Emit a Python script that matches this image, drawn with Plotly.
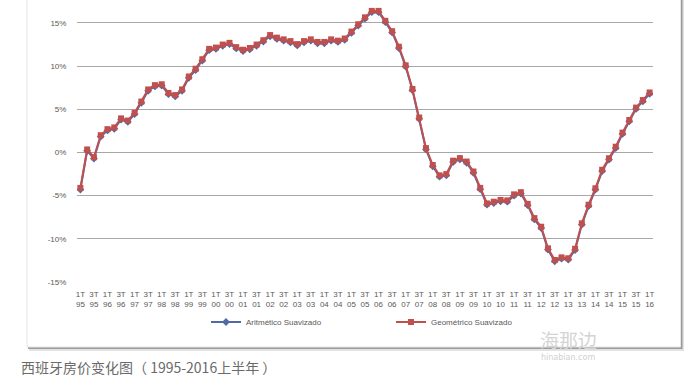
import plotly.graph_objects as go

# Quarter labels 1T95 .. 1T16 (85 quarters)
quarters = []
for yr in range(1995, 2017):
    for q in range(1, 5):
        if yr == 2016 and q > 1:
            break
        quarters.append(f"{q}T{str(yr)[2:]}")

geometrico = [
    -4.1, 0.35, -0.55, 2.0, 2.7, 2.9, 3.95, 3.7, 4.6, 5.9,
    7.3, 7.8, 7.9, 6.9, 6.65, 7.3, 8.8, 9.7, 10.8, 12.0,
    12.15, 12.5, 12.7, 12.2, 11.9, 12.1, 12.5, 13.0, 13.6, 13.3,
    13.1, 12.9, 12.55, 12.9, 13.1, 12.8, 12.8, 13.1, 12.95, 13.2,
    14.0, 14.85, 15.65, 16.4, 16.4, 15.25, 14.05, 12.25, 10.1, 7.35,
    4.05, 0.5, -1.45, -2.65, -2.5, -0.95, -0.65, -1.05, -2.2, -4.1,
    -5.9, -5.7, -5.5, -5.55, -4.85, -4.6, -5.95, -7.6, -8.6, -11.1,
    -12.45, -12.15, -12.25, -11.15, -8.2, -6.05, -4.15, -2.0, -0.67, 0.67,
    2.3, 3.76, 5.2, 6.07, 6.95,
]

aritmetico = [
    -4.3, 0.2, -0.7, 1.85, 2.55, 2.75, 3.8, 3.55, 4.45, 5.75,
    7.15, 7.65, 7.75, 6.75, 6.5, 7.15, 8.65, 9.55, 10.65, 11.85,
    12.0, 12.35, 12.55, 12.05, 11.75, 11.95, 12.35, 12.85, 13.45, 13.15,
    12.95, 12.75, 12.4, 12.75, 12.95, 12.65, 12.65, 12.95, 12.8, 13.05,
    13.85, 14.7, 15.5, 16.25, 16.25, 15.1, 13.9, 12.1, 9.95, 7.2,
    3.9, 0.35, -1.6, -2.8, -2.65, -1.1, -0.8, -1.2, -2.35, -4.25,
    -6.05, -5.85, -5.65, -5.7, -5.0, -4.75, -6.1, -7.75, -8.75, -11.25,
    -12.6, -12.3, -12.4, -11.3, -8.35, -6.2, -4.3, -2.15, -0.82, 0.52,
    2.15, 3.61, 5.05, 5.92, 6.8,
]

ytick_vals = [-15, -10, -5, 0, 5, 10, 15]
ytick_text = ["-15%", "-10%", "-5%", "0%", "5%", "10%", "15%"]

xs = list(range(len(quarters)))
xtick_vals = xs[::2]
xtick_text = [quarters[i][:2] + "<br>" + quarters[i][2:] for i in xtick_vals]

# layout geometry (pixels)
W, H = 689, 377
L, R = 77, 653
T, B = 0, 282
pw, ph = R - L, B - T


def px_x(p):
    return (p - L) / pw


def px_y(q):
    return (B - q) / ph


fig = go.Figure()
fig.add_trace(go.Scatter(
    x=xs, y=aritmetico, mode="lines+markers", name="Aritmético Suavizado",
    line=dict(color="#4F6AA6", width=2),
    marker=dict(symbol="diamond", size=6, color="#4F6AA6"),
    legend="legend", showlegend=True,
))
fig.add_trace(go.Scatter(
    x=xs, y=geometrico, mode="lines+markers", name="Geométrico Suavizado",
    line=dict(color="#C0504D", width=2),
    marker=dict(symbol="square", size=6, color="#C0504D"),
    legend="legend2", showlegend=True,
))

shapes = [
    # soft shadow
    dict(type="rect", xref="paper", yref="paper", layer="below",
         x0=px_x(29), x1=px_x(684), y0=px_y(351), y1=px_y(-5),
         fillcolor="#e2e2e2", line=dict(width=0)),
    dict(type="rect", xref="paper", yref="paper", layer="below",
         x0=px_x(28), x1=px_x(682.5), y0=px_y(349), y1=px_y(-5),
         fillcolor="#9c9c9c", line=dict(width=0)),
    # card
    dict(type="rect", xref="paper", yref="paper", layer="below",
         x0=px_x(27), x1=px_x(680.5), y0=px_y(347), y1=px_y(-5),
         fillcolor="#ffffff", line=dict(color="#e4e4e4", width=1)),
]

annotations = [
    dict(text="西班牙房价变化图（ 1995-2016上半年 ）", xref="paper", yref="paper",
         x=px_x(19), y=px_y(367), xanchor="left", yanchor="middle", showarrow=False,
         font=dict(family="Noto Sans CJK SC", size=14, color="#6a6a6a")),
    dict(text="海那边", xref="paper", yref="paper",
         x=px_x(568), y=px_y(339), xanchor="center", yanchor="middle", showarrow=False,
         font=dict(family="Noto Sans CJK SC", size=19, color="#d4d4d4")),
    dict(text="hinabian.com", xref="paper", yref="paper",
         x=px_x(568), y=px_y(357), xanchor="center", yanchor="middle", showarrow=False,
         font=dict(family="DejaVu Sans", size=8, color="#d0d0d0")),
]

tickfont = dict(family="Liberation Sans", size=8, color="#595959")

fig.update_layout(
    width=W, height=H,
    showlegend=True,
    margin=dict(l=L, r=W - R, t=T, b=H - B, pad=0),
    paper_bgcolor="#ffffff",
    plot_bgcolor="rgba(0,0,0,0)",
    shapes=shapes,
    annotations=annotations,
    xaxis=dict(
        range=[-0.5, len(xs) - 0.5], tickmode="array", tickvals=xtick_vals,
        ticktext=xtick_text, tickangle=0, showgrid=False, zeroline=False,
        showline=False, ticks="outside", ticklen=4, tickcolor="rgba(0,0,0,0)",
        tickfont=tickfont,
    ),
    yaxis=dict(
        range=[-15, 17.66], tickmode="array", tickvals=ytick_vals, ticktext=ytick_text,
        showgrid=True, gridcolor="#a8a8a8", gridwidth=1, zeroline=False,
        showline=False, ticks="outside", ticklen=8, tickcolor="rgba(0,0,0,0)",
        tickfont=tickfont,
    ),
    legend=dict(
        x=px_x(206), y=px_y(322), xanchor="left", yanchor="middle",
        orientation="h", bgcolor="rgba(0,0,0,0)",
        font=dict(family="Liberation Sans", size=8, color="#595959"),
        itemwidth=30, visible=True,
    ),
    legend2=dict(
        x=px_x(391), y=px_y(322), xanchor="left", yanchor="middle",
        orientation="h", bgcolor="rgba(0,0,0,0)",
        font=dict(family="Liberation Sans", size=8, color="#595959"),
        itemwidth=30, visible=True,
    ),
)

fig.write_html("out.html")
